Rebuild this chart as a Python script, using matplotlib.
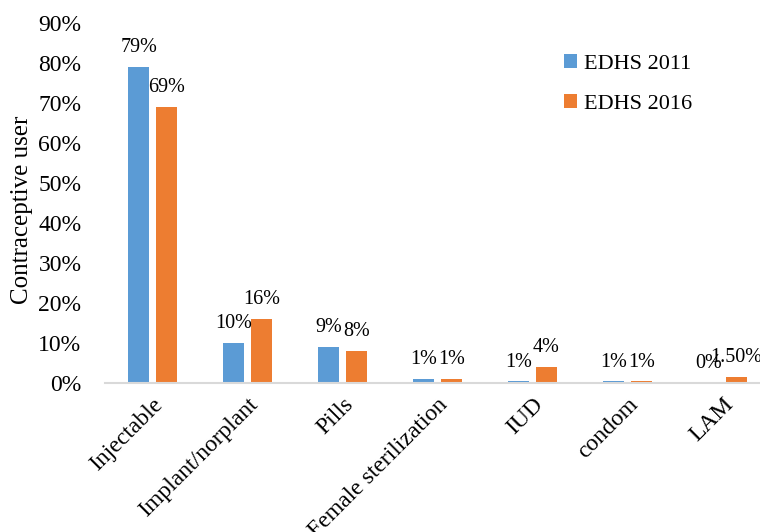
import matplotlib
matplotlib.use("Agg")
import matplotlib.pyplot as plt
import numpy as np

categories = ["Injectable", "Implant/norplant", "Pills", "Female sterilization", "IUD", "condom", "LAM"]
edhs2011 = [79, 10, 9, 1, 0.4, 0.4, 0]
edhs2016 = [69, 16, 8, 1, 4, 0.4, 1.5]
labels2011 = ["79%", "10%", "9%", "1%", "1%", "1%", "0%"]
labels2016 = ["69%", "16%", "8%", "1%", "4%", "1%", "1.50%"]
yticks = [0, 10, 20, 30, 40, 50, 60, 70, 80, 90]

plt.rcParams['font.family'] = ['Liberation Serif', 'DejaVu Serif']

fig = plt.figure(figsize=(7.6, 5.32), dpi=100)
ax = fig.add_axes([105/760, 1-383/532, 665/760, 360/532])

x = np.arange(len(categories))
w = 0.22
off = 0.145
ax.bar(x - off, edhs2011, w, color="#5B9BD5", label="EDHS 2011")
ax.bar(x + off, edhs2016, w, color="#ED7D31", label="EDHS 2016")

for xi, v, t in zip(x - off, edhs2011, labels2011):
    ax.annotate(t, (xi, v), xytext=(0, 10.5), textcoords="offset points",
                ha="center", va="baseline", fontsize=14.5)
for xi, v, t in zip(x + off, edhs2016, labels2016):
    ax.annotate(t, (xi, v), xytext=(0, 10.5), textcoords="offset points",
                ha="center", va="baseline", fontsize=14.5)

ax.set_xlim(-0.5, 6.5)
ax.set_ylim(0, 90)
ax.set_yticks(yticks)
ax.set_yticklabels([f"{t}%" for t in yticks], fontsize=17)
ax.set_xticks(x)
ax.set_xticklabels(categories, rotation=45, ha="right", rotation_mode="anchor", fontsize=17)
ax.tick_params(axis="y", length=0, pad=17)
ax.tick_params(axis="x", length=0, pad=8)
for s in ["top", "right", "left"]:
    ax.spines[s].set_visible(False)
ax.spines["bottom"].set_color("#D9D9D9")
ax.spines["bottom"].set_linewidth(1.5)

ax.set_ylabel("Contraceptive user", fontsize=18)
ax.yaxis.set_label_coords(-0.108, 0.48)

ax.legend(loc="upper left", bbox_to_anchor=(0.66, 0.97), frameon=False,
          fontsize=16, handlelength=0.6, handleheight=0.6, handletextpad=0.3,
          labelspacing=0.9)

fig.savefig("out.png", dpi=100)
